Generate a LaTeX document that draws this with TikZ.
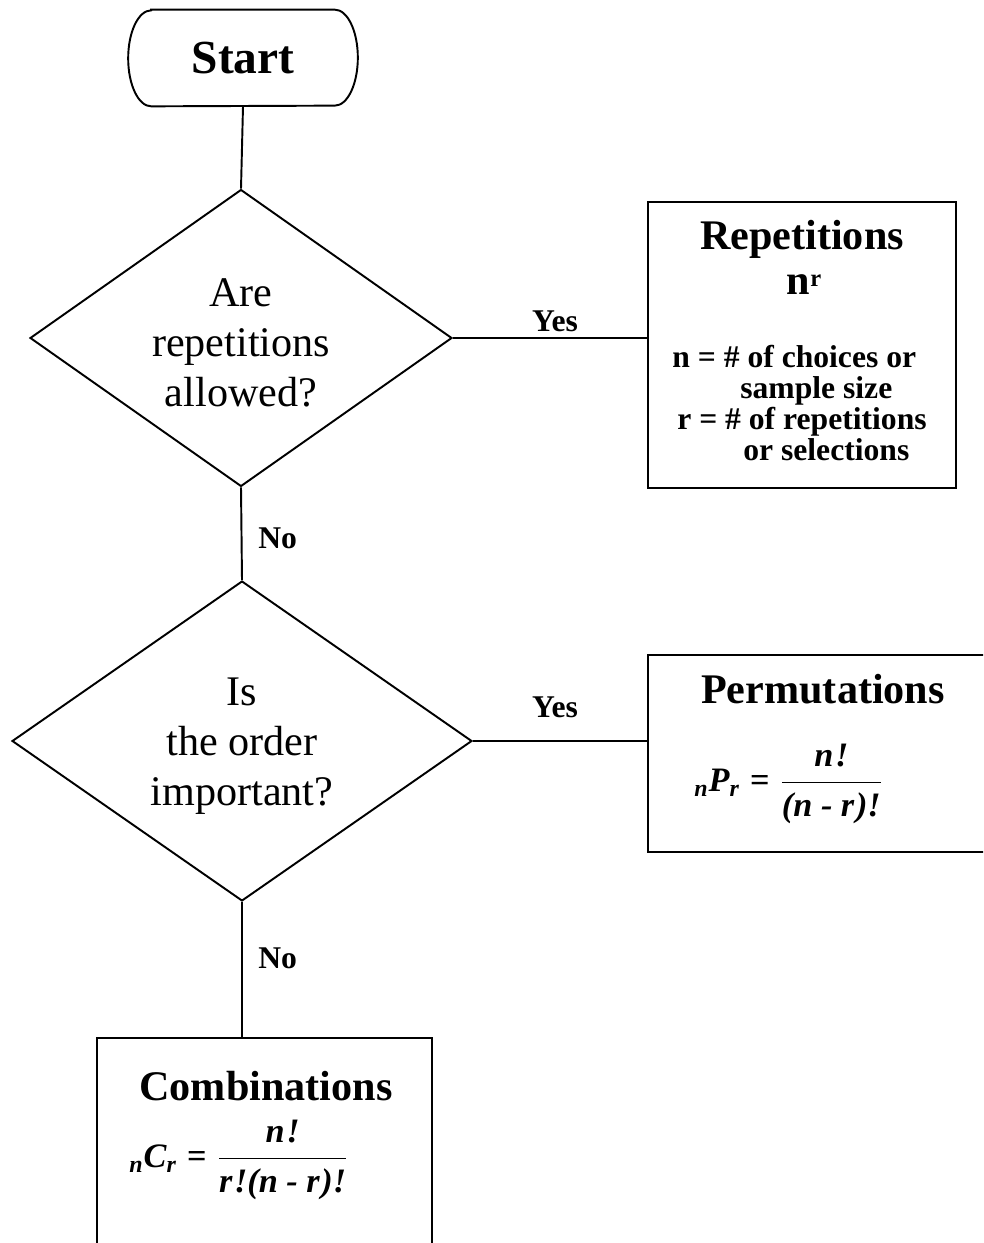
\documentclass[tikz,border=0pt]{standalone}
\usepackage{fontspec}
\setmainfont{Liberation Serif}
\usepackage{amsmath}
\usetikzlibrary{shapes.geometric}

\newcommand{\bi}[1]{\textbf{\textit{#1}}}

\begin{document}
\begin{tikzpicture}[x=0.02cm,y=-0.02cm]

\tikzset{
    box/.style = {
    draw, line width=1.1pt, inner sep=0pt
    }
}

\tikzstyle{debut}=[minimum width=4.58cm, minimum height=1.92cm, font=\fontsize{27}{30}\selectfont\bfseries]
\tikzstyle{question}=[draw, line width=1.1pt, diamond, inner sep=0pt]
\tikzstyle{question-texte}=[inner sep=0pt, align=center, font=\fontsize{24}{28.3}\selectfont]
\tikzstyle{titre}=[inner sep=0pt, font=\fontsize{24}{28}\selectfont\bfseries]
\tikzstyle{texte}=[inner sep=0pt, align=left, font=\fontsize{18}{17.7}\selectfont\bfseries]
\tikzstyle{formule}=[inner sep=0pt, font=\fontsize{19.5}{22}\selectfont]
\tikzstyle{choix}=[inner sep=0pt, font=\fontsize{18}{20}\selectfont\bfseries]
\tikzstyle{lien}=[line width=1.1pt]

\useasboundingbox (0,0) rectangle (983,1243);
\clip (0,0) rectangle (983,1243);

% start and the two questions
\node[debut] (start) at (243,58) {Start};
\draw[lien] ([xshift=0.46cm]start.north west) -- ([xshift=-0.46cm]start.north east)
    arc[start angle=90, end angle=-90, x radius=0.46cm, y radius=0.96cm]
    -- ([xshift=0.46cm]start.south west)
    arc[start angle=270, end angle=90, x radius=0.46cm, y radius=0.96cm] -- cycle;

\node[question, aspect=1.421, minimum width=8.44cm, minimum height=5.94cm] (q1) at (241,338) {};
\node[question-texte] (q1-texte) at ([yshift=-0.1cm]q1.center) {Are\\repetitions\\allowed?};
\node[question, aspect=1.4375, minimum width=9.2cm, minimum height=6.4cm] (q2) at (242,741) {};
\node[question-texte] (q2-texte) at ([yshift=-0.1cm]q2.center) {Is\\the order\\important?};

% result boxes
\node[box, minimum width=6.16cm, minimum height=5.72cm] (rep) at (802,345) {};
\node[box, minimum width=7.04cm, minimum height=3.94cm] (perm) at (824,753.5) {};
\node[box, minimum width=6.7cm, minimum height=4.44cm] (comb) at (264.5,1149) {};

\node[titre, anchor=base] (rep-titre) at (802,250) {Repetitions};
\node[titre, anchor=base] (rep-puiss) at (804,295) {n\raisebox{0.17cm}{\fontsize{14}{14}\selectfont r}};
\node[texte, anchor=north west] (rep-texte) at (672,345) {n = \# of choices or\\
\hspace*{1.36cm}sample size\\
\hspace*{0.1cm}r = \# of repetitions\\
\hspace*{1.42cm}or selections};

\node[titre, anchor=base] (perm-titre) at (823,703) {Permutations};
\node[formule, anchor=west] (perm-formule) at (694,784) {${}_{\bi{n}}\bi{P}_{\bi{r}} \;\textbf{=}\; \dfrac{\bi{n\kern1pt!}}{\bi{(n - r\kern1pt)!}}$};

\node[titre, anchor=base] (comb-titre) at (266,1100) {Combinations};
\node[formule, anchor=west] (comb-formule) at (129,1160) {${}_{\bi{n}}\bi{C}_{\bi{r}} \;\textbf{=}\; \dfrac{\bi{n\kern1pt!}}{\bi{r\kern1pt!(n - r\kern1pt)!}}$};

% answers
\node[choix, anchor=base] (oui1) at (555,332) {Yes};
\node[choix, anchor=base] (oui2) at (555,717) {Yes};
\node[choix, anchor=base west] (non1) at (258,548) {No};
\node[choix, anchor=base west] (non2) at (258,968) {No};

\draw[lien] (start.south) -- (q1.north);
\draw[lien] (q1.east) -- (q1.east -| rep.west);
\draw[lien] (q1.south) -- (q2.north);
\draw[lien] (q2.east) -- (q2.east -| perm.west);
\draw[lien] (q2.south) -- (q2.south |- comb.north);

\end{tikzpicture}
\end{document}
